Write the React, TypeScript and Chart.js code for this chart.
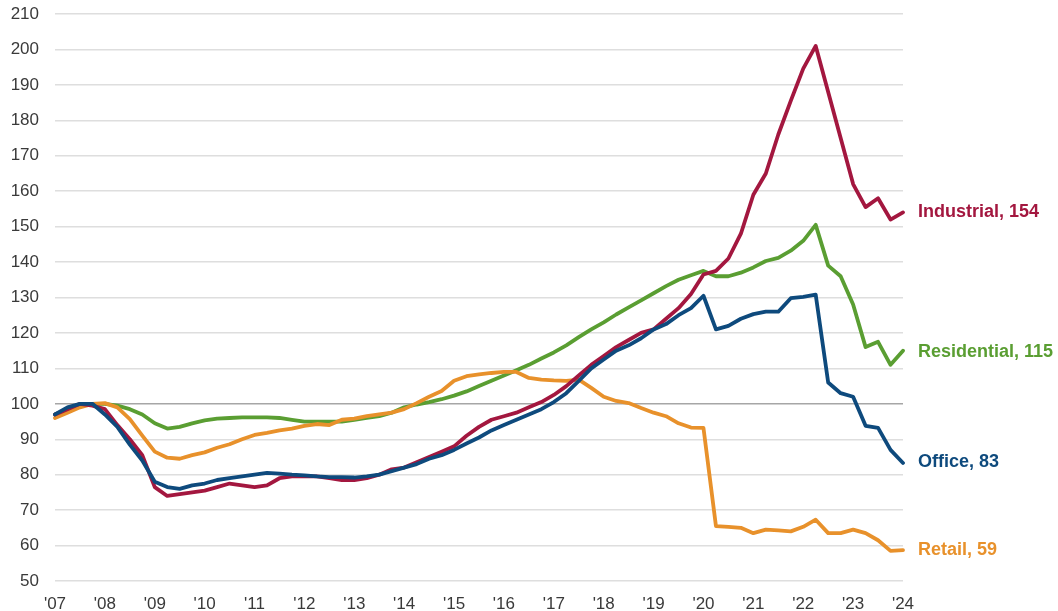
import React, { useEffect, useRef } from 'react';
import { Chart, registerables } from 'chart.js';

Chart.register(...registerables);

// Quarterly categories 2007Q1 .. 2024Q1
const years = [2007, 2008, 2009, 2010, 2011, 2012, 2013, 2014, 2015, 2016, 2017, 2018, 2019, 2020, 2021, 2022, 2023, 2024];
const quarters: string[] = [];
years.forEach((y) => {
  const qs = y === 2024 ? [1] : [1, 2, 3, 4];
  qs.forEach((q) => quarters.push(`${y}Q${q}`));
});

const industrial = [
  97, 98.5, 100, 99.5,
  98.5, 94, 90, 85.5,
  76.5, 74, 74.5, 75,
  75.5, 76.5, 77.5, 77,
  76.5, 77, 79, 79.5,
  79.5, 79.5, 79, 78.5,
  78.5, 79, 80, 81.5,
  82, 83.5, 85, 86.5,
  88, 91, 93.5, 95.5,
  96.5, 97.5, 99, 100.5,
  102.5, 105, 108, 111,
  113.5, 116, 118, 120,
  121, 124, 127, 131,
  136.5, 137.5, 141, 148,
  159, 165, 176, 185.5,
  194.6, 201, 188, 175,
  162, 155.5, 158, 152,
  154,
];

const residential = [
  97, 98.5, 99.5, 100,
  100, 99.5, 98.5, 97,
  94.5, 93, 93.5, 94.5,
  95.3, 95.8, 96, 96.2,
  96.2, 96.2, 96, 95.5,
  95, 95, 95, 95,
  95.5, 96, 96.5, 97.5,
  99, 99.8, 100.5, 101.3,
  102.3, 103.5, 105, 106.5,
  108, 109.5, 111, 112.8,
  114.5, 116.5, 118.8, 121,
  123, 125.2, 127.2, 129.2,
  131.2, 133.2, 135, 136.3,
  137.5, 136, 136, 137,
  138.5, 140.3, 141.2, 143.2,
  146, 150.5, 139, 136,
  128, 116, 117.5, 111,
  115,
];

const office = [
  97, 99, 100, 100,
  97, 93.5, 88.5, 84,
  78, 76.5, 76, 77,
  77.5, 78.5, 79, 79.5,
  80, 80.5, 80.3, 80,
  79.8, 79.5, 79.3, 79.3,
  79.2, 79.5, 80, 81,
  82, 83, 84.5, 85.5,
  87, 88.8, 90.5, 92.5,
  94, 95.5, 97, 98.5,
  100.5, 103, 106.5, 110,
  112.5, 115, 116.5, 118.5,
  121, 122.5, 125, 127,
  130.5, 121, 122, 124,
  125.3, 126, 126, 129.8,
  130.2, 130.8, 106, 103,
  102, 93.8, 93.2, 87,
  83.3,
];

const retail = [
  96, 97.5, 99, 100,
  100.2, 99, 95.7, 91,
  86.5, 84.8, 84.5, 85.5,
  86.3, 87.6, 88.6, 90,
  91.2, 91.8, 92.5, 93,
  93.8, 94.3, 94, 95.5,
  95.8, 96.5, 97, 97.5,
  98.5, 100.2, 102, 103.6,
  106.5, 107.8, 108.3, 108.7,
  109, 109, 107.3, 106.8,
  106.6, 106.5, 106.8, 104.5,
  102, 100.8, 100.2, 98.8,
  97.5, 96.5, 94.5, 93.3,
  93.2, 65.5, 65.3, 65,
  63.5, 64.5, 64.3, 64,
  65.3, 67.3, 63.5, 63.5,
  64.5, 63.5, 61.5, 58.5,
  58.7,
];

const yTicksMin = 50;
const yTicksMax = 210;
const yStep = 10;

// Styles (drawing order: first dataset on top)
const seriesStyle = [
  { label: 'Office', data: office, color: '#0E4A7D', nudge: -1 },
  { label: 'Industrial', data: industrial, color: '#A3173F', nudge: 0 },
  { label: 'Retail', data: retail, color: '#E8912B', nudge: 0 },
  { label: 'Residential', data: residential, color: '#5A9E32', nudge: 1 },
];

const FONT = '"Liberation Sans", Arial, Helvetica, sans-serif';

const endLabels = {
  id: 'endLabels',
  afterDatasetsDraw(chart: any) {
    const ctx = chart.ctx;
    chart.data.datasets.forEach((ds: any, i: number) => {
      const meta = chart.getDatasetMeta(i);
      const pt = meta.data[meta.data.length - 1];
      const v = ds.data[ds.data.length - 1];
      ctx.save();
      ctx.font = `bold 18px ${FONT}`;
      ctx.fillStyle = ds.borderColor;
      ctx.textAlign = 'left';
      ctx.textBaseline = 'middle';
      ctx.fillText(`${ds.label}, ${Math.round(v)}`, chart.chartArea.right + 15, pt.y + (seriesStyle[i].nudge || 0));
      ctx.restore();
    });
  },
};

export default function App() {
  const ref = useRef<HTMLCanvasElement | null>(null);

  useEffect(() => {
    if (!ref.current) return;
    const chart = new Chart(ref.current, {
      type: 'line',
      data: {
        labels: quarters,
        datasets: seriesStyle.map((s) => ({
          label: s.label,
          data: s.data,
          borderColor: s.color,
          backgroundColor: s.color,
          borderWidth: 3.8,
          pointRadius: 0,
          tension: 0,
          borderJoinStyle: 'round' as const,
          borderCapStyle: 'round' as const,
          fill: false,
        })),
      },
      options: {
        animation: false,
        responsive: false,
        maintainAspectRatio: false,
        layout: { padding: { top: 14, right: 155, bottom: 0, left: 0 } },
        plugins: {
          legend: { display: false },
          tooltip: { enabled: false },
        },
        scales: {
          x: {
            type: 'category',
            offset: false,
            grid: { display: false },
            border: { display: false },
            ticks: {
              autoSkip: false,
              maxRotation: 0,
              minRotation: 0,
              padding: 5,
              color: '#3a3a3a',
              font: { size: 17, family: FONT },
              callback: (_v: any, idx: number) => {
                const l = quarters[idx];
                return l.endsWith('Q1') ? `'${l.slice(2, 4)}` : '';
              },
            },
            afterFit: (scale: any) => {
              scale.height = 30;
            },
          },
          y: {
            min: yTicksMin,
            max: yTicksMax,
            border: { display: false },
            grid: {
              drawTicks: false,
              lineWidth: 1.5,
              color: (c: any) => (c.tick && c.tick.value === 100 ? '#a6a6a6' : '#dedede'),
            },
            ticks: {
              stepSize: yStep,
              padding: 16,
              color: '#3a3a3a',
              font: { size: 17, family: FONT },
            },
            afterFit: (scale: any) => {
              scale.width = 55;
              scale.paddingTop = 8;
              scale.paddingBottom = 8;
            },
          },
        },
      },
      plugins: [endLabels],
    });
    return () => chart.destroy();
  }, []);

  return (
    <div style={{ position: 'absolute', left: 0, top: 0, width: 1058, height: 611, background: '#fff' }}>
      <canvas ref={ref} width={1058} height={611} style={{ display: 'block', width: 1058, height: 611 }} />
    </div>
  );
}
